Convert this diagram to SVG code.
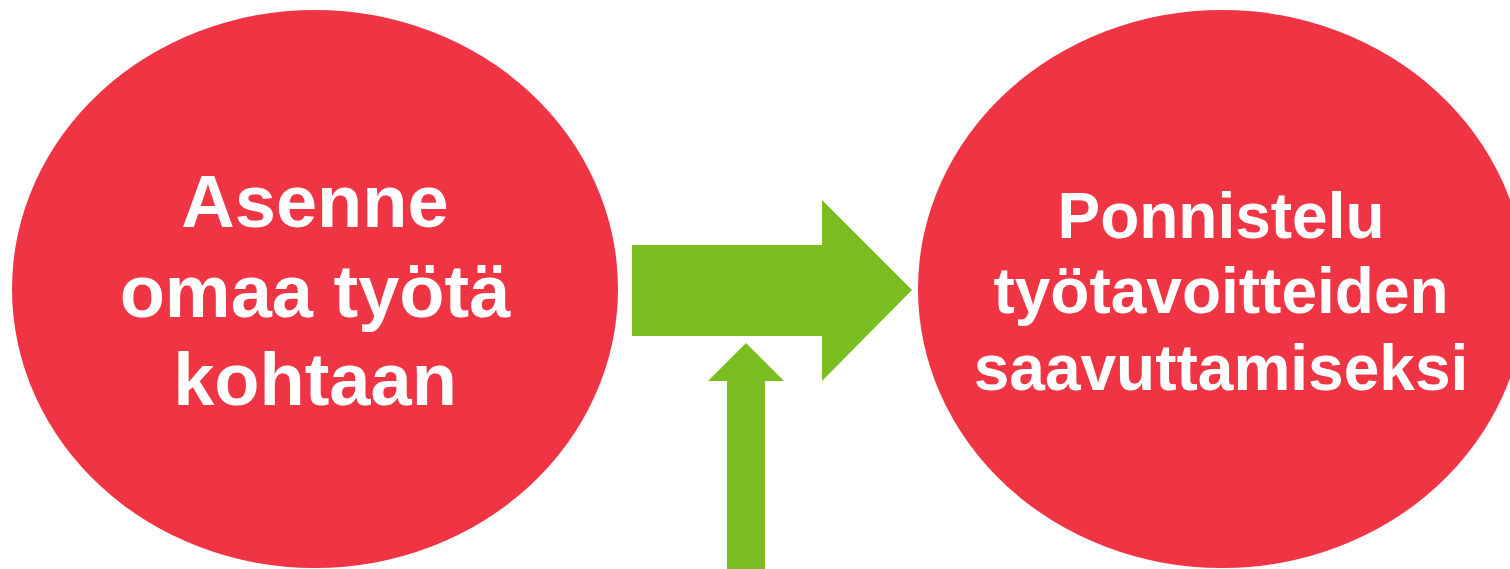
<svg xmlns="http://www.w3.org/2000/svg" width="1510" height="569" viewBox="0 0 1510 569">
<style>
.node{fill:#EF3444;}
.lbl{fill:#FFFFFF;font-family:"Liberation Sans",Arial,sans-serif;font-weight:bold;text-anchor:middle;}
.arr{fill:#7ABE22;}
</style>
<rect width="1510" height="569" fill="#FFFFFF"/>
<g id="node-asenne">
<ellipse class="node" cx="315" cy="289" rx="303" ry="279"/>
<text class="lbl" font-size="74" x="315" y="227">Asenne</text>
<text class="lbl" font-size="74" x="315" y="317">omaa työtä</text>
<text class="lbl" font-size="74" x="315" y="405">kohtaan</text>
</g>
<g id="node-ponnistelu">
<ellipse class="node" cx="1222" cy="289" rx="304" ry="279"/>
<text class="lbl" font-size="64" x="1221" y="238">Ponnistelu</text>
<text class="lbl" font-size="64" x="1221" y="313">työtavoitteiden</text>
<text class="lbl" font-size="64" x="1221" y="390">saavuttamiseksi</text>
</g>
<g id="connectors">
<polygon class="arr" points="632,245 822,245 822,200 912,290 822,381 822,336 632,336"/>
<polygon class="arr" points="727,569 727,381 708,381 746,343 784,381 765,381 765,569"/>
</g>
</svg>
